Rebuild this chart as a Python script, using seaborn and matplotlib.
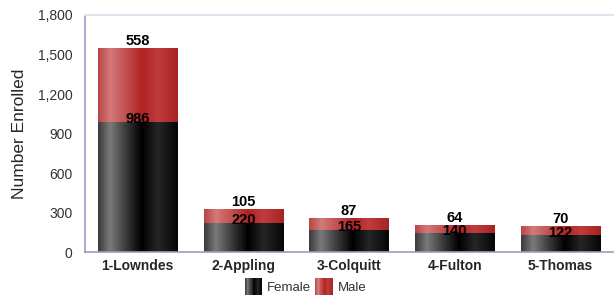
import numpy as np
import pandas as pd
import seaborn as sns
import matplotlib.pyplot as plt
from matplotlib.colors import LinearSegmentedColormap
from matplotlib.patches import Rectangle
from matplotlib.legend_handler import HandlerBase

counties = ['1-Lowndes', '2-Appling', '3-Colquitt', '4-Fulton', '5-Thomas']
female = [986, 220, 165, 140, 122]
male = [558, 105, 87, 64, 70]
total = [f + m for f, m in zip(female, male)]

df = pd.DataFrame({'county': counties, 'female': female, 'male': male, 'total': total})

sns.set_style('white')
plt.rcParams['font.family'] = ['Liberation Sans', 'DejaVu Sans']

# cylinder-like shading, left to right
cmap_f = LinearSegmentedColormap.from_list('fem', [
    (0.0, '#3a3a3a'), (0.15, '#7a7a7a'), (0.35, '#3a3a3a'), (0.55, '#000000'),
    (0.75, '#262626'), (1.0, '#050505')])
cmap_m = LinearSegmentedColormap.from_list('mal', [
    (0.0, '#b84545'), (0.15, '#d47a7a'), (0.35, '#c05050'), (0.55, '#b22222'),
    (0.75, '#c03c3c'), (1.0, '#a52323')])
grad = np.linspace(0, 1, 256).reshape(1, -1)

fig = plt.figure(figsize=(6.15, 2.97), dpi=100)
ax = fig.add_axes([0.138, 0.1515, 0.859, 0.798])

sns.barplot(data=df, x='county', y='total', color='#b22222', width=0.75, ax=ax)
sns.barplot(data=df, x='county', y='female', color='#111111', width=0.75, ax=ax)

n = len(counties)
for i, p in enumerate(ax.patches):
    x, y, w, h = p.get_x(), p.get_y(), p.get_width(), p.get_height()
    cm = cmap_m if i < n else cmap_f
    p.set_visible(False)
    ax.imshow(grad, cmap=cm, extent=[x, x + w, y, y + h], aspect='auto',
              interpolation='bilinear', zorder=2)

for i in range(n):
    ax.text(i, total[i] + 4, f'{male[i]}', ha='center', va='bottom',
            fontsize=10.5, fontweight='bold', color='#000000', zorder=3)
    ax.text(i, female[i] - 30, f'{female[i]}', ha='center', va='bottom',
            fontsize=10.5, fontweight='bold', color='#000000', zorder=3)

ax.set_xlim(-0.5, n - 0.5)
ax.set_ylim(0, 1800)
ax.set_yticks(range(0, 1801, 300))
ax.set_yticklabels([f'{v:,}' for v in range(0, 1801, 300)], fontsize=10, color='#333333')
ax.set_xticks(range(n))
ax.set_xticklabels(counties, fontsize=10, fontweight='bold')
ax.tick_params(axis='y', length=0, pad=9)
ax.tick_params(axis='x', length=0, pad=5)
ax.set_xlabel('')
ax.set_ylabel('Number Enrolled', fontsize=12.5, labelpad=8)

for s in ['left', 'bottom']:
    ax.spines[s].set_color('#9b9bc8')
    ax.spines[s].set_linewidth(1.2)
ax.spines['top'].set_color('#e2e2ef')
ax.spines['top'].set_linewidth(1.5)
ax.spines['right'].set_visible(False)


class GradHandler(HandlerBase):
    def __init__(self, cm):
        super().__init__()
        self.cm = cm

    def create_artists(self, legend, orig, xd, yd, width, height, fontsize, trans):
        k = 20
        arts = []
        for j in range(k):
            arts.append(Rectangle((xd + width * j / k, yd - 3), width / k + 0.3, height + 6,
                                  facecolor=self.cm((j + 0.5) / k), edgecolor='none',
                                  transform=trans))
        return arts


h_f = Rectangle((0, 0), 1, 1)
h_m = Rectangle((0, 0), 1, 1)
fig.legend([h_f, h_m], ['Female', 'Male'],
           handler_map={h_f: GradHandler(cmap_f), h_m: GradHandler(cmap_m)},
           loc='center', bbox_to_anchor=(0.497, 0.03), ncol=2, frameon=False,
           fontsize=9.5, handlelength=1.3, handletextpad=0.4, columnspacing=0.3,
           labelcolor='#333333', borderpad=0)

fig.savefig('out.png', dpi=100)
